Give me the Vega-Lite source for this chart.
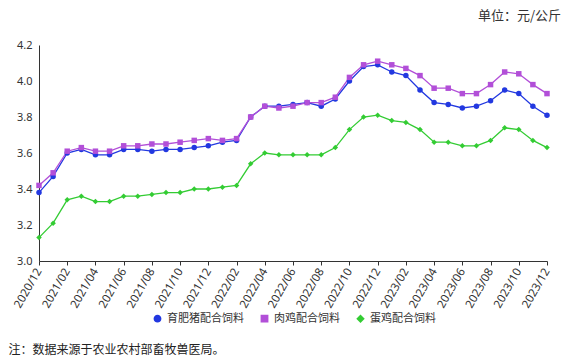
{
  "$schema": "https://vega.github.io/schema/vega-lite/v6.json",
  "width": 508,
  "height": 216,
  "autosize": {"type": "none"},
  "padding": {"left": 39, "top": 45, "right": 26, "bottom": 100},
  "background": "white",
  "title": {"text": "单位：元/公斤", "anchor": "end", "orient": "top", "frame": "group", "dx": 14, "offset": 16, "fontSize": 13, "fontWeight": "normal", "font": "Noto Sans CJK SC", "color": "#333333"},
  "data": {"values": [
    {"month": "2020/12", "育肥猪配合饲料": 3.38, "肉鸡配合饲料": 3.42, "蛋鸡配合饲料": 3.13},
    {"month": "2021/01", "育肥猪配合饲料": 3.47, "肉鸡配合饲料": 3.49, "蛋鸡配合饲料": 3.21},
    {"month": "2021/02", "育肥猪配合饲料": 3.60, "肉鸡配合饲料": 3.61, "蛋鸡配合饲料": 3.34},
    {"month": "2021/03", "育肥猪配合饲料": 3.62, "肉鸡配合饲料": 3.63, "蛋鸡配合饲料": 3.36},
    {"month": "2021/04", "育肥猪配合饲料": 3.59, "肉鸡配合饲料": 3.61, "蛋鸡配合饲料": 3.33},
    {"month": "2021/05", "育肥猪配合饲料": 3.59, "肉鸡配合饲料": 3.61, "蛋鸡配合饲料": 3.33},
    {"month": "2021/06", "育肥猪配合饲料": 3.62, "肉鸡配合饲料": 3.64, "蛋鸡配合饲料": 3.36},
    {"month": "2021/07", "育肥猪配合饲料": 3.62, "肉鸡配合饲料": 3.64, "蛋鸡配合饲料": 3.36},
    {"month": "2021/08", "育肥猪配合饲料": 3.61, "肉鸡配合饲料": 3.65, "蛋鸡配合饲料": 3.37},
    {"month": "2021/09", "育肥猪配合饲料": 3.62, "肉鸡配合饲料": 3.65, "蛋鸡配合饲料": 3.38},
    {"month": "2021/10", "育肥猪配合饲料": 3.62, "肉鸡配合饲料": 3.66, "蛋鸡配合饲料": 3.38},
    {"month": "2021/11", "育肥猪配合饲料": 3.63, "肉鸡配合饲料": 3.67, "蛋鸡配合饲料": 3.40},
    {"month": "2021/12", "育肥猪配合饲料": 3.64, "肉鸡配合饲料": 3.68, "蛋鸡配合饲料": 3.40},
    {"month": "2022/01", "育肥猪配合饲料": 3.66, "肉鸡配合饲料": 3.67, "蛋鸡配合饲料": 3.41},
    {"month": "2022/02", "育肥猪配合饲料": 3.67, "肉鸡配合饲料": 3.68, "蛋鸡配合饲料": 3.42},
    {"month": "2022/03", "育肥猪配合饲料": 3.80, "肉鸡配合饲料": 3.80, "蛋鸡配合饲料": 3.54},
    {"month": "2022/04", "育肥猪配合饲料": 3.86, "肉鸡配合饲料": 3.86, "蛋鸡配合饲料": 3.60},
    {"month": "2022/05", "育肥猪配合饲料": 3.86, "肉鸡配合饲料": 3.85, "蛋鸡配合饲料": 3.59},
    {"month": "2022/06", "育肥猪配合饲料": 3.87, "肉鸡配合饲料": 3.86, "蛋鸡配合饲料": 3.59},
    {"month": "2022/07", "育肥猪配合饲料": 3.88, "肉鸡配合饲料": 3.88, "蛋鸡配合饲料": 3.59},
    {"month": "2022/08", "育肥猪配合饲料": 3.86, "肉鸡配合饲料": 3.88, "蛋鸡配合饲料": 3.59},
    {"month": "2022/09", "育肥猪配合饲料": 3.90, "肉鸡配合饲料": 3.91, "蛋鸡配合饲料": 3.63},
    {"month": "2022/10", "育肥猪配合饲料": 4.00, "肉鸡配合饲料": 4.02, "蛋鸡配合饲料": 3.73},
    {"month": "2022/11", "育肥猪配合饲料": 4.08, "肉鸡配合饲料": 4.09, "蛋鸡配合饲料": 3.80},
    {"month": "2022/12", "育肥猪配合饲料": 4.09, "肉鸡配合饲料": 4.11, "蛋鸡配合饲料": 3.81},
    {"month": "2023/01", "育肥猪配合饲料": 4.05, "肉鸡配合饲料": 4.09, "蛋鸡配合饲料": 3.78},
    {"month": "2023/02", "育肥猪配合饲料": 4.03, "肉鸡配合饲料": 4.07, "蛋鸡配合饲料": 3.77},
    {"month": "2023/03", "育肥猪配合饲料": 3.95, "肉鸡配合饲料": 4.03, "蛋鸡配合饲料": 3.73},
    {"month": "2023/04", "育肥猪配合饲料": 3.88, "肉鸡配合饲料": 3.96, "蛋鸡配合饲料": 3.66},
    {"month": "2023/05", "育肥猪配合饲料": 3.87, "肉鸡配合饲料": 3.96, "蛋鸡配合饲料": 3.66},
    {"month": "2023/06", "育肥猪配合饲料": 3.85, "肉鸡配合饲料": 3.93, "蛋鸡配合饲料": 3.64},
    {"month": "2023/07", "育肥猪配合饲料": 3.86, "肉鸡配合饲料": 3.93, "蛋鸡配合饲料": 3.64},
    {"month": "2023/08", "育肥猪配合饲料": 3.89, "肉鸡配合饲料": 3.98, "蛋鸡配合饲料": 3.67},
    {"month": "2023/09", "育肥猪配合饲料": 3.95, "肉鸡配合饲料": 4.05, "蛋鸡配合饲料": 3.74},
    {"month": "2023/10", "育肥猪配合饲料": 3.93, "肉鸡配合饲料": 4.04, "蛋鸡配合饲料": 3.73},
    {"month": "2023/11", "育肥猪配合饲料": 3.86, "肉鸡配合饲料": 3.98, "蛋鸡配合饲料": 3.67},
    {"month": "2023/12", "育肥猪配合饲料": 3.81, "肉鸡配合饲料": 3.93, "蛋鸡配合饲料": 3.63}
  ]},
  "transform": [{"fold": ["育肥猪配合饲料", "肉鸡配合饲料", "蛋鸡配合饲料"], "as": ["series", "value"]}],
  "encoding": {
    "x": {
      "field": "month", "type": "ordinal", "sort": null,
      "scale": {"type": "point", "padding": 0},
      "axis": {
        "values": ["2020/12","2021/02","2021/04","2021/06","2021/08","2021/10","2021/12","2022/02","2022/04","2022/06","2022/08","2022/10","2022/12","2023/02","2023/04","2023/06","2023/08","2023/10","2023/12"],
        "labelAngle": -60, "labelAlign": "right", "labelBaseline": "middle", "labelPadding": 4,
        "tickSize": 4, "tickColor": "#333333", "domainColor": "#333333", "labelColor": "#333333",
        "labelFont": "Noto Sans", "labelFontSize": 11.5, "grid": false,
        "title": "注：数据来源于农业农村部畜牧兽医局。",
        "titleX": -31, "titleY": 88, "titleAlign": "left", "titleAnchor": "start", "titleBaseline": "middle",
        "titleFont": "Noto Sans CJK SC", "titleFontSize": 12, "titleFontWeight": "normal", "titleColor": "#222222"
      }
    },
    "y": {
      "field": "value", "type": "quantitative",
      "scale": {"domain": [3.0, 4.2], "nice": false, "zero": false},
      "axis": {
        "values": [3.0, 3.2, 3.4, 3.6, 3.8, 4.0, 4.2], "format": ".1f", "ticks": false, "grid": false,
        "domainColor": "#333333", "labelColor": "#333333", "labelFont": "Noto Sans", "labelFontSize": 11,
        "labelPadding": 7, "title": null
      }
    },
    "color": {
      "field": "series", "type": "nominal",
      "scale": {"domain": ["育肥猪配合饲料", "肉鸡配合饲料", "蛋鸡配合饲料"], "range": ["#2238E0", "#B24FD8", "#33CC33"]},
      "legend": {
        "orient": "none", "legendX": 113, "legendY": 268, "direction": "horizontal", "title": null,
        "labelFont": "Noto Sans CJK SC", "labelFontSize": 11, "labelColor": "#333333",
        "symbolSize": 40, "columnPadding": 14, "symbolOpacity": 1
      }
    }
  },
  "layer": [
    {"mark": {"type": "line", "strokeWidth": 1.3}},
    {
      "mark": {"type": "point", "filled": true, "size": 30, "opacity": 1},
      "encoding": {
        "shape": {
          "field": "series", "type": "nominal",
          "scale": {"domain": ["育肥猪配合饲料", "肉鸡配合饲料", "蛋鸡配合饲料"], "range": ["circle", "square", "diamond"]},
          "legend": {
            "orient": "none", "legendX": 113, "legendY": 268, "direction": "horizontal", "title": null,
            "labelFont": "Noto Sans CJK SC", "labelFontSize": 11, "labelColor": "#333333",
            "symbolSize": 40, "columnPadding": 14, "symbolOpacity": 1
          }
        }
      }
    }
  ],
  "config": {"view": {"stroke": null}}
}
